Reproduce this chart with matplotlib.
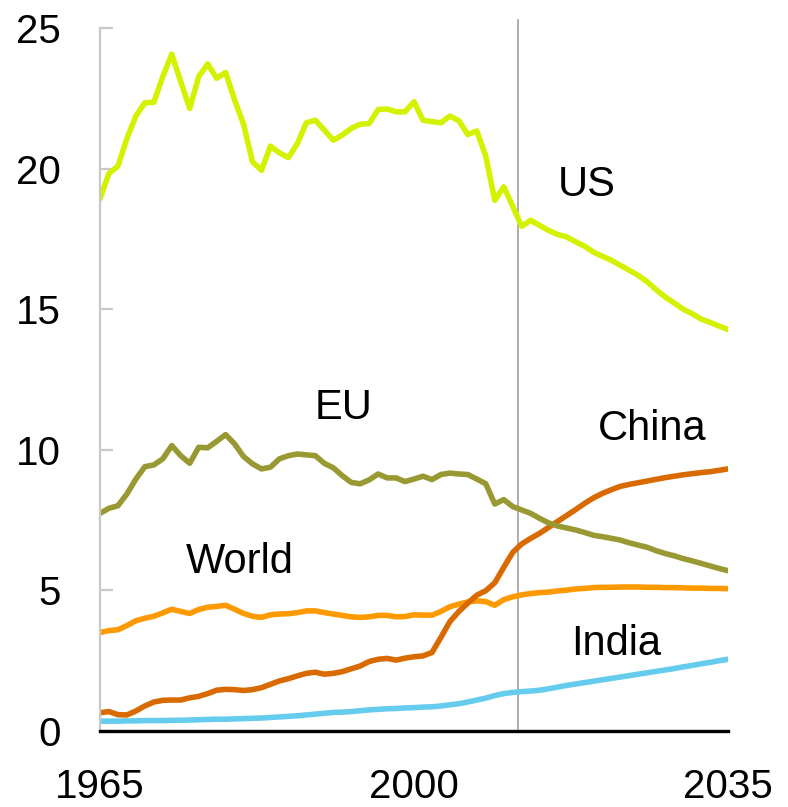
import matplotlib
matplotlib.use("Agg")
from matplotlib import pyplot as plt

years = list(range(1965, 2036))

us = [18.93, 19.83, 20.09, 21.07, 21.87, 22.34, 22.36, 23.27, 24.07, 23.09,
      22.14, 23.27, 23.72, 23.21, 23.42, 22.44, 21.58, 20.24, 19.94, 20.80,
      20.56, 20.39, 20.89, 21.63, 21.72, 21.37, 21.01, 21.19, 21.43, 21.58,
      21.60, 22.10, 22.12, 22.02, 22.02, 22.38, 21.72, 21.67, 21.63, 21.87,
      21.70, 21.21, 21.34, 20.44, 18.87, 19.35, 18.66, 17.95, 18.16, 17.98,
      17.80, 17.66, 17.57, 17.40, 17.24, 17.03, 16.88, 16.74, 16.56, 16.38,
      16.20, 15.97, 15.69, 15.43, 15.22, 15.00, 14.84, 14.65, 14.53, 14.40,
      14.28]

eu = [7.74, 7.92, 8.01, 8.43, 8.96, 9.40, 9.46, 9.68, 10.15, 9.79,
      9.52, 10.09, 10.07, 10.30, 10.54, 10.21, 9.76, 9.50, 9.32, 9.38,
      9.68, 9.79, 9.85, 9.82, 9.79, 9.52, 9.36, 9.08, 8.84, 8.79,
      8.93, 9.14, 9.00, 9.00, 8.87, 8.96, 9.06, 8.94, 9.12, 9.17,
      9.14, 9.12, 8.96, 8.79, 8.07, 8.23, 7.98, 7.86, 7.74, 7.56,
      7.40, 7.29, 7.22, 7.15, 7.06, 6.96, 6.91, 6.85, 6.79, 6.69,
      6.61, 6.53, 6.41, 6.31, 6.23, 6.13, 6.05, 5.96, 5.87, 5.78,
      5.70]

world = [3.50, 3.57, 3.60, 3.75, 3.92, 4.01, 4.08, 4.20, 4.33, 4.25,
         4.18, 4.32, 4.40, 4.43, 4.47, 4.33, 4.18, 4.08, 4.04, 4.13,
         4.16, 4.17, 4.21, 4.27, 4.27, 4.21, 4.16, 4.11, 4.06, 4.04,
         4.06, 4.11, 4.11, 4.06, 4.07, 4.13, 4.12, 4.12, 4.25, 4.42,
         4.51, 4.59, 4.63, 4.60, 4.47, 4.67, 4.77, 4.84, 4.89, 4.92,
         4.94, 4.98, 5.01, 5.05, 5.07, 5.10, 5.11, 5.11, 5.12, 5.12,
         5.12, 5.11, 5.11, 5.10, 5.10, 5.09, 5.08, 5.08, 5.07, 5.07,
         5.06]

china = [0.65, 0.69, 0.58, 0.57, 0.71, 0.89, 1.03, 1.09, 1.10, 1.10,
         1.18, 1.23, 1.33, 1.45, 1.48, 1.47, 1.44, 1.47, 1.54, 1.66,
         1.78, 1.86, 1.96, 2.05, 2.09, 2.02, 2.05, 2.11, 2.21, 2.31,
         2.47, 2.55, 2.58, 2.52, 2.59, 2.64, 2.67, 2.79, 3.33, 3.89,
         4.25, 4.55, 4.83, 4.99, 5.27, 5.82, 6.35, 6.65, 6.85, 7.03,
         7.24, 7.45, 7.66, 7.87, 8.09, 8.29, 8.45, 8.58, 8.70, 8.77,
         8.83, 8.89, 8.95, 9.01, 9.06, 9.11, 9.15, 9.19, 9.22, 9.27,
         9.32]

india = [0.35, 0.35, 0.35, 0.36, 0.36, 0.37, 0.37, 0.37, 0.38, 0.38,
         0.39, 0.40, 0.41, 0.42, 0.42, 0.43, 0.44, 0.45, 0.46, 0.48,
         0.50, 0.52, 0.54, 0.57, 0.60, 0.63, 0.66, 0.67, 0.69, 0.72,
         0.75, 0.77, 0.79, 0.80, 0.82, 0.83, 0.85, 0.86, 0.89, 0.93,
         0.97, 1.03, 1.10, 1.17, 1.26, 1.33, 1.37, 1.40, 1.42, 1.45,
         1.50, 1.56, 1.62, 1.67, 1.72, 1.77, 1.82, 1.87, 1.92, 1.97,
         2.02, 2.07, 2.12, 2.17, 2.22, 2.28, 2.33, 2.39, 2.44, 2.50,
         2.55]

x_ticks = [1965, 2000, 2035]
y_ticks = [0, 5, 10, 15, 20, 25]
projection_start = 2011.6

plt.rcParams["font.family"] = ["Liberation Sans", "DejaVu Sans"]

fig = plt.figure(figsize=(7.88, 8.07), dpi=100)
ax = fig.add_axes([0.1269, 0.0942, 0.797, 0.8711])

lw = 4.0
ax.plot(years, world, color="#ff9900", lw=lw, solid_capstyle="round")
ax.plot(years, china, color="#d96a00", lw=lw, solid_capstyle="round")
ax.plot(years, eu, color="#999933", lw=lw, solid_capstyle="round")
ax.plot(years, us, color="#d4f200", lw=lw, solid_capstyle="round")
ax.plot(years, india, color="#66ccee", lw=lw, solid_capstyle="round")

ax.axvline(projection_start, ymin=0.003, ymax=1.011, color="#999999", lw=1.1,
           clip_on=False, zorder=1)

# series labels
label_kw = dict(fontsize=30, ha="center", va="center", color="black")
ax.text(2019.3, 19.4, "US", **label_kw)
ax.text(1992.1, 11.5, "EU", **label_kw)
ax.text(1980.6, 6.0, "World", **label_kw)
ax.text(2026.5, 10.75, "China", **label_kw)
ax.text(2022.5, 3.1, "India", **label_kw)

ax.set_xlim(1965, 2035)
ax.set_ylim(0, 25)
ax.set_xticks(x_ticks)
ax.set_xticklabels([str(y) for y in x_ticks])
ax.set_yticks(y_ticks)

for side in ["top", "right"]:
    ax.spines[side].set_visible(False)
ax.spines["left"].set_color("#c8c8c8")
ax.spines["left"].set_linewidth(1.6)
ax.spines["bottom"].set_color("black")
ax.spines["bottom"].set_linewidth(2.4)

ax.tick_params(axis="y", direction="in", length=9.5, width=1.6, color="#c8c8c8",
               labelsize=29, pad=28)
ax.tick_params(axis="x", length=0, labelsize=29, pad=27)

fig.savefig("out.png", dpi=100)
